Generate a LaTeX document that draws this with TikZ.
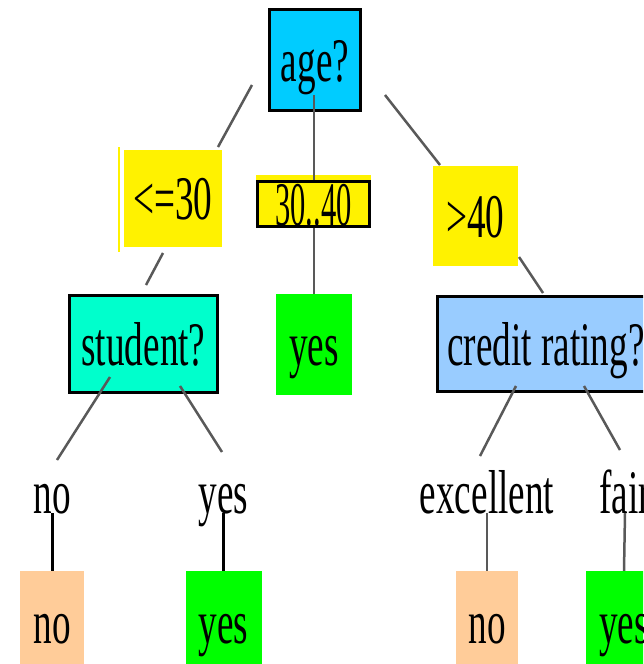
\documentclass[tikz,border=0pt]{standalone}
\usepackage{fontspec}
\usepackage{graphicx}
\setmainfont{Liberation Serif}[FakeStretch=0.6]
\definecolor{agecol}{HTML}{00CCFF}
\definecolor{studcol}{HTML}{00FFCC}
\definecolor{credcol}{HTML}{99CCFF}
\definecolor{yescol}{HTML}{00FF00}
\definecolor{nocol}{HTML}{FFCC99}
\tikzset{
  testbox/.style={draw=black,line width=3pt},
  conn/.style={draw=black!65,line width=2.5pt},
  leafconn/.style={draw=black,line width=3pt}
}
\begin{document}
\begin{tikzpicture}[x=1pt,y=-1pt,font=\fontsize{62pt}{70pt}\selectfont]
\useasboundingbox (0,0) rectangle (643,664);
\clip (0,0) rectangle (643,664);
\fill[yellow] (118,147) rectangle (120,252);
\fill[yellow] (256,175) rectangle (371,181);
\begin{scope}[every node/.style={inner sep=0pt,text height=42pt,text depth=0pt}]
    \node[testbox,fill=agecol,minimum width=91pt,minimum height=101pt] (age) at (315,60) {age?};
    \node[fill=yellow,minimum width=98pt,minimum height=97pt] (le30) at (173,198.5) {<=30};
    \node[fill=yellow,minimum width=85pt,minimum height=100pt] (gt40) at (475.5,216) {>40};
    \node[testbox,fill=studcol,minimum width=148pt,minimum height=97pt] (student) at (143.5,344) {student?};
    \node[fill=yescol,minimum width=76pt,minimum height=101pt] (midyes) at (314,344.5) {yes};
    \node[testbox,fill=credcol,minimum width=217pt,minimum height=95pt] (credit) at (546,344) {credit rating?};
    \node (lno) at (52,492) {no};
    \node (lyes) at (223.5,492) {yes};
    \node (lexc) at (487,492) {excellent};
    \node (lfair) at (625,492) {fair};
    \node[fill=nocol,minimum width=64pt,minimum height=102pt] (sno) at (52,622) {no};
    \node[fill=yescol,minimum width=76pt,minimum height=102pt] (syes) at (223.5,622) {yes};
    \node[fill=nocol,minimum width=62pt,minimum height=102pt] (cno) at (487,622) {no};
    \node[fill=yescol,minimum width=76pt,minimum height=102pt] (cyes) at (624,622) {yes};
\end{scope}
% line ends
\coordinate (ageL) at (252,85);   \coordinate (le30T) at (218,147);
\coordinate (ageM) at (314,95);
\coordinate (ageR) at (385,95);   \coordinate (gt40T) at (440,165);
\coordinate (le30B) at (163,253); \coordinate (studT) at (146,285);
\coordinate (gt40B) at (519,257); \coordinate (credT) at (543,293);
\coordinate (studL) at (110,377); \coordinate (lnoT) at (57,460);
\coordinate (studR) at (180,386); \coordinate (lyesT) at (222,452);
\coordinate (credL) at (516,386); \coordinate (lexcT) at (480,456);
\coordinate (credR) at (584,386); \coordinate (lfairT) at (620,450);
\begin{scope}[every edge/.style={conn}]
    \path (ageL) edge (le30T);
    \path (ageM) edge (midyes.north);
    \path (ageR) edge (gt40T);
    \path (le30B) edge (studT);
    \path (gt40B) edge (credT);
    \path (studL) edge (lnoT);
    \path (studR) edge (lyesT);
    \path (credL) edge (lexcT);
    \path (credR) edge (lfairT);
    \path (lexc.south) edge (cno.north);
    \path (lfair.south) edge (cyes.north);
    \path (lno.south) edge[leafconn] (sno.north);
    \path (lyes.south) edge[leafconn] (syes.north);
\end{scope}
\node[testbox,fill=yellow,inner sep=0pt,text height=42pt,text depth=0pt,
      minimum width=112pt,minimum height=45pt] (r3040) at (313.5,204) {\scalebox{0.82}[1]{30..40}};
\end{tikzpicture}
\end{document}
